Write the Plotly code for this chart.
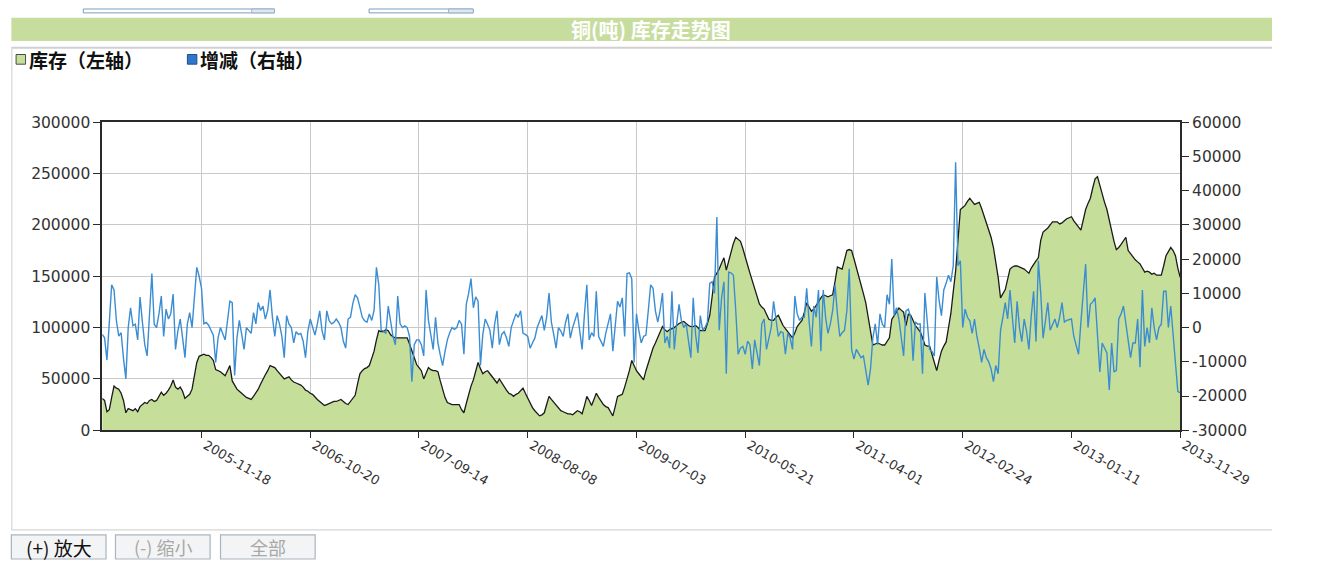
import plotly.graph_objects as go

# ---------------- data ----------------
x_tick_labels = ["2005-11-18", "2006-10-20", "2007-09-14", "2008-08-08", "2009-07-03",
                 "2010-05-21", "2011-04-01", "2012-02-24", "2013-01-11", "2013-11-29"]

stock = [
    31000, 29000, 18000, 20000, 32000, 43000, 41000, 40000, 36000, 29000,
    17000, 21000, 20000, 19000, 21000, 18000, 23000, 25000, 27000, 26000,
    29000, 30000, 28000, 29000, 33000, 37000, 34000, 36000, 39000, 43000,
    49000, 42000, 40000, 42000, 38000, 31000, 33000, 35000, 40000, 53000,
    66000, 72000, 73000, 74000, 73000, 73000, 71000, 68000, 59000, 58000,
    57000, 55000, 53000, 58000, 63000, 48000, 44000, 40000, 38000, 36000,
    34000, 32000, 31000, 30000, 33000, 36000, 40000, 45000, 50000, 54000,
    58000, 63000, 62000, 61000, 58000, 55000, 53000, 50000, 51000, 52000,
    49000, 47000, 46000, 45000, 44000, 42000, 39000, 38000, 36000, 35000,
    32000, 30000, 28000, 26000, 24000, 25000, 26000, 27000, 28000, 28000,
    29000, 30000, 28000, 26000, 25000, 28000, 31000, 34000, 45000, 55000,
    58000, 60000, 61000, 63000, 70000, 77000, 88000, 97000, 96000, 96000,
    98000, 97000, 93000, 91000, 90000, 90000, 90000, 90000, 90000, 90000,
    84000, 77000, 70000, 64000, 61000, 58000, 50000, 55000, 61000, 59000,
    58000, 58000, 57000, 48000, 39000, 32000, 27000, 26000, 25000, 25000,
    25000, 25000, 20000, 17000, 26000, 36000, 43000, 49000, 58000, 66000,
    60000, 55000, 57000, 58000, 55000, 52000, 49000, 46000, 50000, 46000,
    42000, 39000, 36000, 35000, 33000, 35000, 36000, 39000, 41000, 36000,
    31000, 27000, 22000, 19000, 16000, 14000, 15000, 17000, 25000, 33000,
    30000, 27000, 24000, 21000, 19000, 18000, 17000, 16000, 16000, 15000,
    17000, 19000, 18000, 16000, 24000, 33000, 29000, 24000, 30000, 36000,
    32000, 28000, 25000, 23000, 22000, 18000, 14000, 23000, 33000, 34000,
    35000, 42000, 49000, 58000, 68000, 63000, 58000, 55000, 52000, 49000,
    58000, 66000, 74000, 80000, 85000, 90000, 96000, 101000, 98000, 96000,
    98000, 99000, 100000, 102000, 104000, 105000, 106000, 104000, 102000, 101000,
    101000, 102000, 100000, 97000, 97000, 97000, 104000, 112000, 130000, 149000,
    153000, 157000, 163000, 168000, 156000, 165000, 175000, 182000, 188000, 186000,
    184000, 177000, 170000, 161000, 153000, 145000, 137000, 130000, 123000, 120000,
    118000, 113000, 108000, 107000, 107000, 110000, 112000, 107000, 102000, 99000,
    96000, 93000, 90000, 95000, 101000, 104000, 107000, 115000, 124000, 120000,
    116000, 118000, 121000, 125000, 129000, 132000, 131000, 130000, 131000, 132000,
    145000, 159000, 158000, 157000, 166000, 175000, 176000, 175000, 167000, 159000,
    151000, 143000, 133000, 124000, 111000, 99000, 83000, 84000, 85000, 84000,
    83000, 83000, 86000, 90000, 108000, 112000, 116000, 119000, 117000, 115000,
    102000, 113000, 112000, 106000, 102000, 99000, 96000, 90000, 83000, 82000,
    82000, 74000, 66000, 58000, 68000, 77000, 82000, 86000, 100000, 114000,
    135000, 155000, 185000, 215000, 217000, 219000, 223000, 226000, 223000, 220000,
    221000, 222000, 216000, 209000, 203000, 197000, 188000, 178000, 163000, 149000,
    129000, 133000, 137000, 147000, 157000, 159000, 160000, 160000, 159000, 158000,
    157000, 155000, 153000, 158000, 162000, 165000, 168000, 185000, 193000, 195000,
    197000, 200000, 203000, 203000, 203000, 201000, 202000, 204000, 206000, 207000,
    208000, 204000, 201000, 198000, 195000, 205000, 215000, 221000, 226000, 236000,
    245000, 247000, 238000, 230000, 222000, 215000, 204000, 193000, 184000, 176000,
    178000, 181000, 185000, 188000, 175000, 172000, 168000, 166000, 164000, 162000,
    158000, 154000, 155000, 154000, 152000, 153000, 151000, 151000, 151000, 160000,
    170000, 174000, 178000, 175000, 170000, 158000, 149000,
]

change = [
    -2000, -3000, -9500, 2000, 12500, 11000, 2000, -2500, -1500, -9000,
    -15000, 0, 5800, 500, 1000, -3600, 8900, 1600, -5000, -8300,
    6000, 15800, 1000, 0, 4000, 9200, -2600, 5400, 2500, 4000,
    9800, -6400, -1000, 2500, -3000, -8800, 1000, 4400, 0, 8000,
    17600, 15000, 11500, 1100, 1500, 700, -1000, -2200, -10200, -3000,
    0, -1700, -3600, 2000, 7700, 7300, -14000, -3000, 2100, -2000,
    -6400, 0, -1000, -1700, 4400, 1100, 7300, 5000, 6300, 2500,
    5000, 11000, 3000, -2600, 3500, 1000, -2600, -8800, 3500, 1000,
    0, -4500, -1200, -2000, -1700, -4000, -8800, -1000, 2500, 0,
    -2200, 1000, 4900, -1000, -3600, 4900, 2000, 1100, 1500, 2500,
    1500, 0, -4000, -6000, 2500, 3000, 7000, 9600, 8700, 6000,
    3000, 2000, 1600, 4000, 2100, 5000, 17600, 12500, -800, -1000,
    -1700, 6300, 1000, -2600, -5000, 9200, 1100, 0, 500, 0,
    -2600, -15800, -5000, -3600, -3600, -5000, -8300, 11000, 2100, -2000,
    -6400, 3000, -4500, -8000, -11100, -7000, -3600, -1500, 0, -500,
    0, 2100, 1000, -7800, 6800, 10000, 14300, 5800, 9000, 7700,
    -11100, -2000, 2500, 1000, -800, -6000, 1000, 4900, -5000, -2000,
    -1200, -3000, -5500, 0, 2000, 4000, 3000, 4900, -1700, -2000,
    -2600, -6000, -4500, -3100, 0, 1500, 3500, -800, 3000, 10100,
    1600, -2000, -6000, 0, -1000, -2600, 1500, 4000, -3100, 0,
    2500, 4400, -1000, -6400, 4000, 12500, -3600, -1500, -2600, 10600,
    -2600, -4000, -5500, -1700, 1000, 4000, -6900, 0, 7700, 6000,
    8700, -2600, 15800, 16000, 14300, -10200, 4000, -800, -4500, -2600,
    -2200, 5000, 12500, 11500, 4900, 1600, 5000, 10100, -4500, -2600,
    -6000, 10600, -6400, 1000, 6800, 2000, 0, 1100, -3600, -8800,
    8700, -2000, -7400, 3500, -800, 0, 1600, 12900, 13400, 10000,
    32300, -800, 8700, 13400, -13500, 16200, 16000, 15300, 4900, -7800,
    -6000, -5500, -7800, -4000, -5000, -12100, -3600, -8000, -11100, 1100,
    2500, -6400, -3000, 0, 7700, 3000, -2600, -1200, -1500, -7800,
    -1700, -3000, -6400, 9200, 4000, 2100, 3000, 3000, 11500, 2000,
    -5500, 6300, 3000, 11000, -6900, 11000, 3000, -1700, 1100, 5000,
    12500, 4000, -2600, -1500, -800, 5000, 17200, -6400, -9200, -6400,
    -7500, -8800, -8300, -12000, -16800, -12100, -3000, 1100, -5000, 4000,
    1000, 0, 9600, 6800, 20000, 3500, 5800, 2500, -3000, -8300,
    4900, 5400, 3000, -9700, 1600, 1000, 1100, -13500, 10100, 1000,
    -6400, -7000, -8300, 14800, 8000, 3500, 11000, 13000, 15300, 13400,
    18100, 48300, 18100, 19500, 0, 5400, 3000, 2000, -1700, 2500,
    -2600, -6000, -10200, -6400, -8800, -10000, -12100, -15800, -11100, -13500,
    -800, 3000, 7300, 2500, 11000, 3000, -4500, 7700, 0, -4100,
    2500, -1000, -6400, 3500, 10600, -4100, 19500, 10100, -3100, 2000,
    7300, -800, 1000, 2500, 0, 3000, 7300, 1600, 2100, 2300,
    2500, -2600, -5000, -7800, 1600, 10000, 18600, 0, 6800, 7500,
    8700, -2000, -13000, -4500, -6000, -7400, -18200, -4500, -13000, -12500,
    2500, 4000, 6300, 1000, -3600, -8800, -4500, -4500, 2500, -11600,
    11000, -5500, 0, -4500, 5800, 0, -3600, 0, 1000, 10600,
    10600, 0, 6300, -2600, -10200, -18700, -19000,
]

left_ticks = [0, 50000, 100000, 150000, 200000, 250000, 300000]
right_ticks = [-30000, -20000, -10000, 0, 10000, 20000, 30000, 40000, 50000, 60000]

title_text = "铜(吨) 库存走势图"
legend_stock = "库存（左轴）"
legend_change = "增减（右轴）"

# ---------------- figure ----------------
W, H = 1344, 568
n = len(stock)
xs = list(range(n))
step = 46
tick_idx = [n - 1 - step * (len(x_tick_labels) - 1 - k) for k in range(len(x_tick_labels))]


def X(p):
    return min(max(p, 0), W) / W


def Y(p):
    return 1 - min(max(p, 0), H) / H


GREEN = "#c5df9b"
BLUE = "#3a8dd3"
GRID = "#c9c9c9"
AXIS = "#2a2a2a"
TICKFONT = dict(family="DejaVu Sans", size=15.5, color="#333333")
CJK = "Noto Sans CJK SC"

fig = go.Figure()
fig.add_trace(go.Scatter(
    x=xs, y=stock, mode="lines", fill="tozeroy", fillcolor=GREEN,
    line=dict(color="#1a1a1a", width=1.3), name=legend_stock, yaxis="y",
    hoverinfo="skip"))
fig.add_trace(go.Scatter(
    x=xs, y=change, mode="lines", line=dict(color=BLUE, width=1.4),
    name=legend_change, yaxis="y2", hoverinfo="skip"))


def rect(x0, x1, y0, y1, line_color=None, fill="rgba(0,0,0,0)", lw=1.0, layer="above"):
    return dict(type="rect", xref="paper", yref="paper", x0=X(x0), x1=X(x1), y0=Y(y1), y1=Y(y0),
                line=dict(color=line_color or "rgba(0,0,0,0)", width=lw if line_color else 0),
                fillcolor=fill, layer=layer)


def hline(x0, x1, y, color, lw):
    return dict(type="line", xref="paper", yref="paper", x0=X(x0), x1=X(x1), y0=Y(y), y1=Y(y),
                line=dict(color=color, width=lw), layer="below")


def vline(x, y0, y1, color, lw):
    return dict(type="line", xref="paper", yref="paper", x0=X(x), x1=X(x), y0=Y(y0), y1=Y(y1),
                line=dict(color=color, width=lw), layer="below")


shapes = [
    # top (cut-off) form inputs
    rect(88, 290, 0, 4, "#7f9db9", "#ffffff", 1, "below"),
    rect(266, 290, 0, 4, "#9bb0c8", "#dde8f4", 1, "below"),
    rect(390, 500, 0, 4, "#7f9db9", "#ffffff", 1, "below"),
    rect(474, 500, 0, 4, "#9bb0c8", "#dde8f4", 1, "below"),
    # title bar
    rect(12, 1344, 9, 33, None, "#c6dd9e", 0, "below"),
    # panel border (open on the right)
    hline(12, 1344, 40, "#d0d0d0", 2),
    vline(12.5, 40, 538, "#d6d6d6", 1.2),
    hline(12, 1344, 538, "#d6d6d6", 1.2),
    # legend squares
    rect(17, 27, 47, 57, "#4a4a4a", GREEN, 1),
    rect(198, 208, 47, 57, "#1f4f8f", "#2f78c8", 1),
]
for bx0, bx1 in [(12, 112), (122, 222), (233, 333)]:
    shapes.append(rect(bx0, bx1, 543, 568, "#a9b4be", "#f3f4f5", 1.2))

annotations = [
    dict(text="<b>" + title_text + "</b>", x=X(688), y=Y(21), xref="paper", yref="paper",
         showarrow=False, xanchor="center", yanchor="middle",
         font=dict(family=CJK, size=20, color="#ffffff")),
    dict(text="<b>" + legend_stock + "</b>", x=X(28), y=Y(52), xref="paper", yref="paper",
         showarrow=False, xanchor="left", yanchor="middle",
         font=dict(family=CJK, size=19, color="#111111")),
    dict(text="<b>" + legend_change + "</b>", x=X(209), y=Y(52), xref="paper", yref="paper",
         showarrow=False, xanchor="left", yanchor="middle",
         font=dict(family=CJK, size=19, color="#111111")),
    dict(text="(+) 放大", x=X(62), y=Y(556), xref="paper", yref="paper", showarrow=False,
         xanchor="center", yanchor="middle", font=dict(family=CJK, size=19, color="#111111")),
    dict(text="(-) 缩小", x=X(172), y=Y(556), xref="paper", yref="paper", showarrow=False,
         xanchor="center", yanchor="middle", font=dict(family=CJK, size=18, color="#a8a8a8")),
    dict(text="全部", x=X(283), y=Y(556), xref="paper", yref="paper", showarrow=False,
         xanchor="center", yanchor="middle", font=dict(family=CJK, size=18, color="#a8a8a8")),
]

fig.update_layout(
    width=W, height=H, autosize=False,
    margin=dict(l=0, r=0, t=0, b=0, pad=0),
    paper_bgcolor="#ffffff", plot_bgcolor="#ffffff",
    showlegend=False,
    xaxis=dict(domain=[X(108), X(1247)], range=[0, n - 1], tickmode="array",
               tickvals=tick_idx, ticktext=x_tick_labels, tickangle=30,
               ticklabelstandoff=-5, ticklabelshift=4,
               showgrid=True, gridcolor=GRID, gridwidth=1, zeroline=False,
               showline=True, linecolor=AXIS, linewidth=1.6, mirror=True,
               ticks="outside", ticklen=6, tickcolor=AXIS, tickwidth=1.2,
               tickfont=dict(family="DejaVu Sans", size=13, color="#333333")),
    yaxis=dict(domain=[Y(435), Y(117)], range=[0, 300000], tickmode="array",
               tickvals=left_ticks, ticktext=[str(v) for v in left_ticks],
               showgrid=True, gridcolor=GRID, gridwidth=1, zeroline=False,
               showline=True, linecolor=AXIS, linewidth=1.6,
               ticks="outside", ticklen=7, tickcolor=AXIS, tickwidth=1.2, tickfont=TICKFONT),
    yaxis2=dict(overlaying="y", side="right", range=[-30000, 60000], tickmode="array",
                tickvals=right_ticks, ticktext=[str(v) for v in right_ticks],
                showgrid=False, zeroline=False,
                showline=True, linecolor=AXIS, linewidth=1.6,
                ticks="outside", ticklen=7, tickcolor=AXIS, tickwidth=1.2, tickfont=TICKFONT),
    shapes=shapes,
    annotations=annotations,
)

fig.write_html("out.html", config={"displayModeBar": False},
               post_script="document.body.style.margin='0';document.body.style.overflow='hidden';")
